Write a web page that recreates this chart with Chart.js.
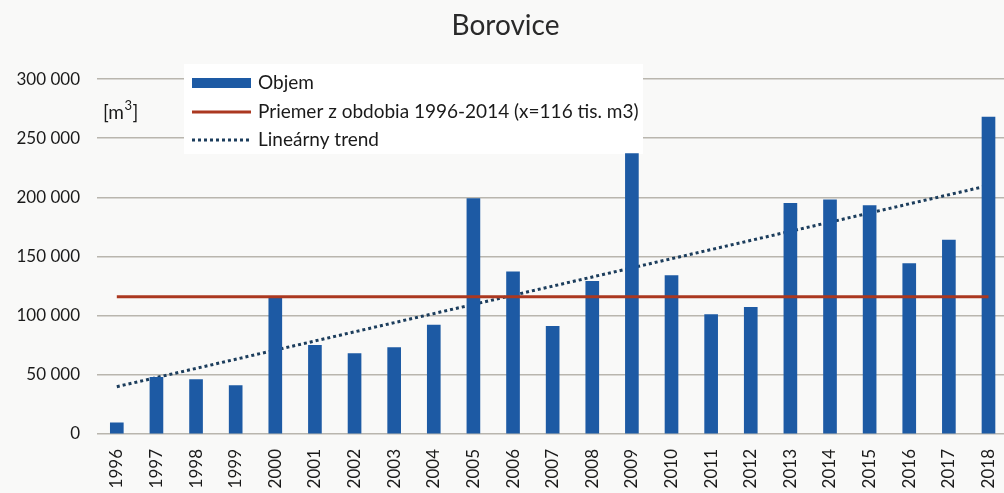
<!DOCTYPE html>
<html>
<head>
<meta charset="utf-8">
<script src="https://cdn.jsdelivr.net/npm/chart.js@4"></script>
<style>
  html, body { margin: 0; padding: 0; background: #f9f9f8; overflow: hidden; }
  #wrap { position: relative; width: 1016px; height: 493px; }
</style>
</head>
<body>
<div id="wrap"><canvas id="borovice"></canvas></div>
<script>
// roky a objem (m3) odčítané z grafu
const years = ['1996', '1997', '1998', '1999', '2000', '2001', '2002', '2003', '2004', '2005', '2006', '2007',
  '2008', '2009', '2010', '2011', '2012', '2013', '2014', '2015', '2016', '2017', '2018'];
const objem = [9500, 48000, 46000, 41000, 115000, 75000, 68000, 73000, 92000, 199000, 137000, 91000,
  129000, 237000, 134000, 101000, 107000, 195000, 198000, 193000, 144000, 164000, 268000];
// priemer 1996-2014
const priemer = 116000;
// lineárny trend - koncové body
const trendStart = 40000;
const trendEnd = 210000;
const yTicks = [0, 50000, 100000, 150000, 200000, 250000, 300000];

const avgData = years.map(() => priemer);
const trendData = years.map((y, i) => i == 0 ? trendStart : (i == years.length - 1 ? trendEnd : null));

const FONT = 'Lato';
const TXT = '#1a1a1a';

// legenda vo vnútri grafu + jednotka
const legendPlugin = {
  id: 'insideLegend',
  beforeDatasetsDraw(chart) {
    // biele pozadie legendy prekryje mriežku
    const c = chart.ctx;
    c.save();
    c.fillStyle = '#ffffff';
    c.fillRect(184, 64, 459, 90);
    c.restore();
  },
  afterDraw(chart) {
    const c = chart.ctx;
    c.save();
    c.font = '19px ' + FONT;
    c.textBaseline = 'middle';
    c.textAlign = 'left';

    const ds = chart.data.datasets;
    // Objem
    c.fillStyle = ds[0].backgroundColor;
    c.fillRect(192, 78, 59, 10);
    c.fillStyle = TXT;
    c.fillText(ds[0].label, 258, 83);
    // priemer
    c.strokeStyle = ds[1].borderColor;
    c.lineWidth = 3;
    c.beginPath(); c.moveTo(192, 112); c.lineTo(251, 112); c.stroke();
    c.fillText(ds[1].label, 258, 112);
    // trend
    c.strokeStyle = ds[2].borderColor;
    c.setLineDash(ds[2].borderDash);
    c.beginPath(); c.moveTo(192, 140); c.lineTo(249, 140); c.stroke();
    c.setLineDash([]);
    c.fillText(ds[2].label, 258, 140);

    // jednotka [m3] s horným indexom
    let x = 103;
    c.fillText('[m', x, 113);
    x += c.measureText('[m').width;
    c.font = '13px ' + FONT;
    c.fillText('3', x + 0.5, 106);
    x += c.measureText('3').width + 1;
    c.font = '19px ' + FONT;
    c.fillText(']', x, 113);
    c.restore();
  }
};

const ctx = document.getElementById('borovice').getContext('2d');
new Chart(ctx, {
  type: 'bar',
  data: {
    labels: years,
    datasets: [
      {
        label: 'Objem',
        data: objem,
        backgroundColor: '#1d5aa4',
        barThickness: 13,
        order: 1
      },
      {
        type: 'line',
        label: 'Priemer z obdobia 1996-2014 (x=116 tis. m3)',
        data: avgData,
        borderColor: '#ab3820',
        borderWidth: 3,
        pointRadius: 0,
        order: 0
      },
      {
        type: 'line',
        label: 'Lineárny trend',
        data: trendData,
        borderColor: '#1c3d5c',
        borderWidth: 3,
        borderDash: [3, 3],
        pointRadius: 0,
        spanGaps: true,
        order: 2
      }
    ]
  },
  options: {
    responsive: true,
    maintainAspectRatio: false,
    animation: false,
    layout: { padding: { left: 0, right: 5, top: 0, bottom: 0 } },
    scales: {
      x: {
        grid: { display: false },
        border: { display: false },
        ticks: {
          minRotation: 90,
          maxRotation: 90,
          padding: 7,
          color: TXT,
          font: { family: FONT, size: 17 }
        },
        afterFit(scale) { scale.height = 59; }
      },
      y: {
        min: 0,
        max: 300000,
        afterBuildTicks(scale) { scale.ticks = yTicks.map(v => ({ value: v })); },
        grid: { color: '#b9b6ae', lineWidth: 1.5, drawTicks: false },
        border: { display: false },
        ticks: {
          padding: 17,
          color: TXT,
          font: { family: FONT, size: 17 },
          callback: v => v.toLocaleString('en-US').replace(/,/g, ' ')
        },
        afterFit(scale) { scale.width = 97; }
      }
    },
    plugins: {
      legend: { display: false },
      tooltip: { enabled: false },
      title: {
        display: true,
        text: 'Borovice',
        color: '#2a2a2a',
        font: { family: FONT, size: 28, weight: 'normal' },
        padding: { top: 9.5, bottom: 36 }
      }
    }
  },
  plugins: [legendPlugin]
});
</script>
</body>
</html>
